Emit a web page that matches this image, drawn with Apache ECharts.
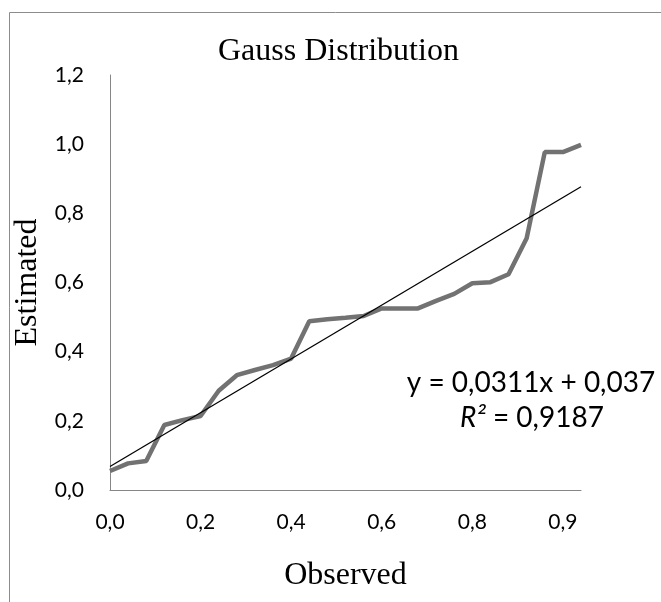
<!DOCTYPE html>
<html>
<head>
<meta charset="utf-8">
<script src="https://cdn.jsdelivr.net/npm/echarts@6/dist/echarts.min.js"></script>
<style>
html,body{margin:0;padding:0;background:#fff;}
#chart{width:661px;height:602px;}
</style>
</head>
<body>
<div id="chart"></div>
<script>
// Observed (category) values
var observed = [0.00, 0.04, 0.07, 0.11, 0.15, 0.19, 0.22, 0.26, 0.30, 0.34, 0.37, 0.41, 0.45, 0.49,
                0.52, 0.56, 0.60, 0.64, 0.67, 0.71, 0.76, 0.79, 0.82, 0.86, 0.89, 0.93, 0.96];
// Estimated values
var estimated = [0.055, 0.077, 0.084, 0.188, 0.202, 0.214, 0.287, 0.332, 0.347, 0.361, 0.380, 0.488, 0.494, 0.498,
                 0.503, 0.525, 0.525, 0.525, 0.547, 0.567, 0.598, 0.601, 0.624, 0.728, 0.977, 0.977, 0.998];
// Linear trendline endpoints (y = 0,0311x + 0,037 at x = 1 and x = 27)
var trendIndex = [0, 26];
var trendValues = [0.068, 0.877];
var yTicks = [0, 0.2, 0.4, 0.6, 0.8, 1.0, 1.2];
var equationText = 'y = 0,0311x + 0,037';
var r2Value = '0,9187';

function fmt(v){ return Number(v).toFixed(1).replace('.', ','); }

var chart = echarts.init(document.getElementById('chart'), null, {renderer:'canvas'});
var trendData = trendIndex.map(function(ix, k){ return [ix, trendValues[k]]; });

chart.setOption({
  animation: false,
  backgroundColor: '#ffffff',
  title: {
    text: 'Gauss Distribution',
    left: 213, top: 31,
    textStyle: {fontFamily: 'Liberation Serif', fontSize: 32, fontWeight: 'normal', color: '#000'}
  },
  grid: {left: 110, right: 80, top: 75, bottom: 112, containLabel: false},
  xAxis: {
    type: 'category',
    data: observed.map(fmt),
    boundaryGap: false,
    name: 'Observed',
    nameLocation: 'middle',
    nameGap: 70,
    nameTextStyle: {fontFamily: 'Liberation Serif', fontSize: 32, color: '#000'},
    axisLine: {lineStyle: {color: '#868686', width: 1}},
    axisTick: {show: false},
    axisLabel: {interval: 4, margin: 22, fontFamily: 'Lato', fontSize: 21, color: '#000'},
    splitLine: {show: false}
  },
  yAxis: {
    type: 'value',
    min: 0, max: 1.2, interval: 0.2,
    name: 'Estimated',
    nameLocation: 'middle',
    nameGap: 57,
    nameRotate: 90,
    nameTextStyle: {fontFamily: 'Liberation Serif', fontSize: 32, color: '#000'},
    axisLine: {show: true, lineStyle: {color: '#868686', width: 1}},
    axisTick: {show: false},
    axisLabel: {margin: 26, fontFamily: 'Lato', fontSize: 21, color: '#000', formatter: fmt},
    splitLine: {show: false}
  },
  series: [
    {
      type: 'line',
      data: estimated,
      showSymbol: false,
      symbol: 'none',
      lineStyle: {color: '#727272', width: 4.5},
      z: 2
    },
    {
      type: 'line',
      data: trendData,
      showSymbol: false,
      symbol: 'none',
      lineStyle: {color: '#000000', width: 1.3},
      z: 3
    }
  ],
  graphic: [
    {
      type: 'rect',
      shape: {x: 9.5, y: 12.5, width: 800, height: 800},
      style: {fill: 'none', stroke: '#8c8c8c', lineWidth: 1},
      silent: true, z: -1
    },
    {
      type: 'text',
      x: 531, y: 383,
      style: {text: equationText, fontFamily: 'Lato', fontSize: 28, fill: '#000', align: 'center', verticalAlign: 'middle'}
    },
    {
      type: 'text',
      x: 532, y: 418,
      style: {
        text: '{i|R²} = ' + r2Value,
        fontFamily: 'Lato', fontSize: 28, fill: '#000', align: 'center', verticalAlign: 'middle',
        rich: {i: {fontFamily: 'Lato', fontSize: 28, fontStyle: 'italic', fill: '#000'}}
      }
    }
  ]
});
</script>
</body>
</html>
